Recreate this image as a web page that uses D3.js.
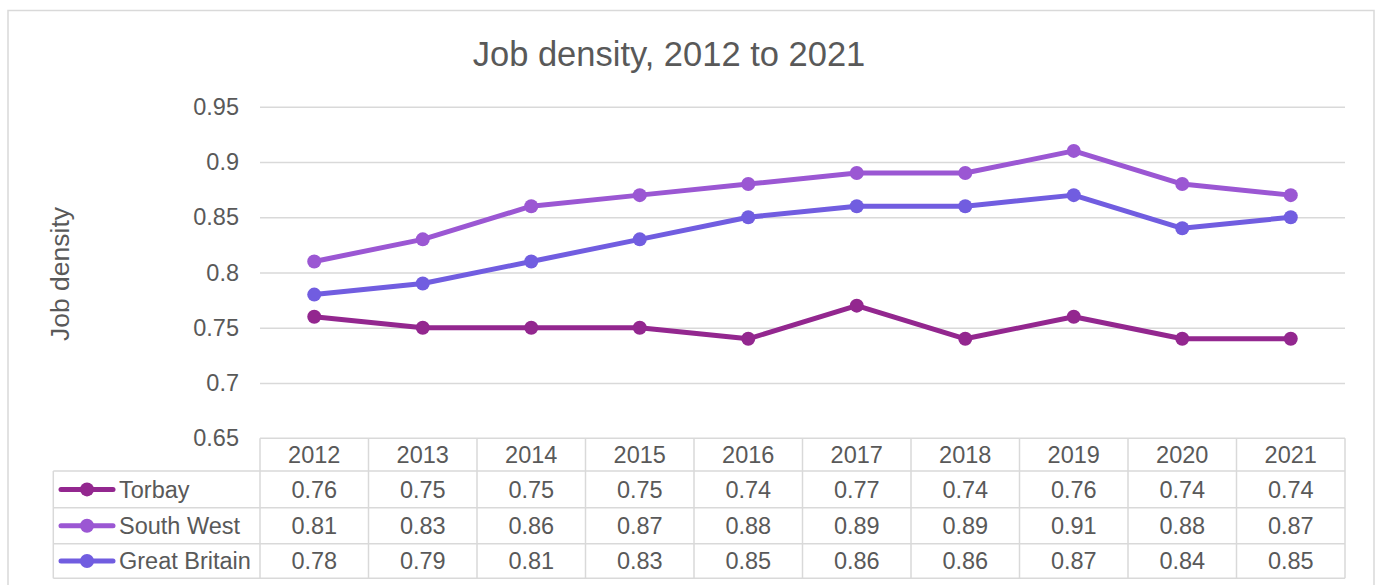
<!DOCTYPE html>
<html>
<head>
<meta charset="utf-8">
<script src="https://cdn.jsdelivr.net/npm/d3@7"></script>
<style>
  html, body { margin: 0; padding: 0; background: #ffffff; }
  svg { display: block; }
  text { font-family: "Liberation Sans", Arial, sans-serif; fill: #595959; }
</style>
</head>
<body>
<svg id="chart" width="1381" height="585"></svg>
<script>
// Job density by area, 2012–2021
const years = ["2012", "2013", "2014", "2015", "2016", "2017", "2018", "2019", "2020", "2021"];
const torbay = [0.76, 0.75, 0.75, 0.75, 0.74, 0.77, 0.74, 0.76, 0.74, 0.74];
const southWest = [0.81, 0.83, 0.86, 0.87, 0.88, 0.89, 0.89, 0.91, 0.88, 0.87];
const greatBritain = [0.78, 0.79, 0.81, 0.83, 0.85, 0.86, 0.86, 0.87, 0.84, 0.85];
const seriesNames = ["Torbay", "South West", "Great Britain"];
const seriesColors = ["#93278f", "#9b57d3", "#715de0"];
const yTicks = [0.65, 0.7, 0.75, 0.8, 0.85, 0.9, 0.95];
const titleText = "Job density, 2012 to 2021";
const yTitleText = "Job density";

const series = [torbay, southWest, greatBritain].map((values, i) => ({
  name: seriesNames[i], color: seriesColors[i], values
}));

const svg = d3.select("#chart");
const gridColor = "#d9d9d9";
const fs = 23.5;

// outer chart frame
svg.append("rect")
  .attr("x", 8).attr("y", 10.5)
  .attr("width", 1366).attr("height", 590)
  .attr("fill", "none").attr("stroke", gridColor).attr("stroke-width", 1.5);

const plotLeft = 260, plotRight = 1345, plotTop = 106.7, plotBottom = 438.3;

const x = d3.scaleBand().domain(years).range([plotLeft, plotRight]);
const y = d3.scaleLinear().domain([0.65, 0.95]).range([plotBottom, plotTop]);

// title
svg.append("text")
  .attr("x", 669).attr("y", 66)
  .attr("text-anchor", "middle")
  .style("font-size", "34.5px")
  .text(titleText);

// y axis with gridlines
const yAxis = svg.append("g")
  .attr("transform", `translate(${plotLeft},0)`)
  .call(d3.axisLeft(y).tickValues(yTicks)
    .tickSize(-(plotRight - plotLeft))
    .tickPadding(21)
    .tickFormat(d => String(+d.toFixed(2))));
yAxis.select(".domain").remove();
yAxis.selectAll(".tick line")
  .attr("stroke", gridColor).attr("stroke-width", 1.5)
  .filter(d => d === 0.65).remove();
yAxis.selectAll(".tick text")
  .style("font-size", fs + "px")
  .attr("fill", "#595959")
  .style("font-family", '"Liberation Sans", Arial, sans-serif');

// y axis title
svg.append("text")
  .attr("transform", `translate(69,274) rotate(-90)`)
  .attr("text-anchor", "middle")
  .style("font-size", "26.5px")
  .text(yTitleText);

// series lines and markers
const line = d3.line()
  .x((d, i) => x(years[i]) + x.bandwidth() / 2)
  .y(d => y(d));

const seriesG = svg.selectAll("g.series").data(series).join("g").attr("class", "series");
seriesG.append("path")
  .attr("d", d => line(d.values))
  .attr("fill", "none")
  .attr("stroke", d => d.color)
  .attr("stroke-width", 5)
  .attr("stroke-linejoin", "round");
seriesG.selectAll("circle")
  .data(d => d.values.map((v, i) => ({ v, i, color: d.color })))
  .join("circle")
  .attr("cx", d => x(years[d.i]) + x.bandwidth() / 2)
  .attr("cy", d => y(d.v))
  .attr("r", 7)
  .attr("fill", d => d.color);

// data table below the plot
const rowEdges = [438.3, 471, 507.8, 543.8, 578.3];
const legendLeft = 53.3;
const table = svg.append("g");

// horizontal lines
table.append("line")
  .attr("x1", plotLeft).attr("x2", plotRight)
  .attr("y1", rowEdges[0]).attr("y2", rowEdges[0]);
rowEdges.slice(1).forEach(yy => {
  table.append("line")
    .attr("x1", legendLeft).attr("x2", plotRight)
    .attr("y1", yy).attr("y2", yy);
});
// vertical lines
table.append("line")
  .attr("x1", legendLeft).attr("x2", legendLeft)
  .attr("y1", rowEdges[1]).attr("y2", rowEdges[4]);
years.forEach(yr => {
  table.append("line")
    .attr("x1", x(yr)).attr("x2", x(yr))
    .attr("y1", rowEdges[0]).attr("y2", rowEdges[4]);
});
table.append("line")
  .attr("x1", plotRight).attr("x2", plotRight)
  .attr("y1", rowEdges[0]).attr("y2", rowEdges[4]);
table.selectAll("line").attr("stroke", gridColor).attr("stroke-width", 1.5);

const baseOff = fs * 0.358;
// header row
table.selectAll("text.year").data(years).join("text")
  .attr("class", "year")
  .attr("x", d => x(d) + x.bandwidth() / 2)
  .attr("y", (rowEdges[0] + rowEdges[1]) / 2 + baseOff)
  .attr("text-anchor", "middle")
  .style("font-size", fs + "px")
  .text(d => d);

// series rows
series.forEach((s, r) => {
  const cy = (rowEdges[r + 1] + rowEdges[r + 2]) / 2;
  // legend key
  table.append("line")
    .attr("x1", 61).attr("x2", 113)
    .attr("y1", cy).attr("y2", cy)
    .attr("stroke", s.color).attr("stroke-width", 5)
    .attr("stroke-linecap", "round");
  table.append("circle")
    .attr("cx", 87).attr("cy", cy).attr("r", 7)
    .attr("fill", s.color);
  table.append("text")
    .attr("x", 119).attr("y", cy + baseOff)
    .style("font-size", fs + "px")
    .text(s.name);
  table.selectAll(null).data(s.values).join("text")
    .attr("x", (d, i) => x(years[i]) + x.bandwidth() / 2)
    .attr("y", cy + baseOff)
    .attr("text-anchor", "middle")
    .style("font-size", fs + "px")
    .text(d => d.toFixed(2));
});
</script>
</body>
</html>
